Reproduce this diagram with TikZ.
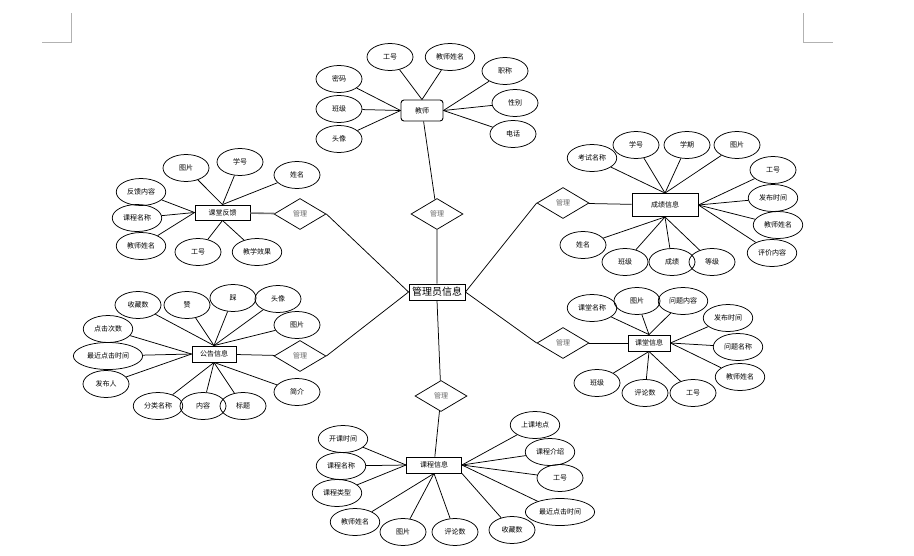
\documentclass[tikz,border=0pt]{standalone}
\usepackage{fontspec}
\setmainfont{Noto Sans CJK SC}
\usetikzlibrary{shapes.geometric}

\begin{document}
\begin{tikzpicture}[x=1pt,y=-1pt,line width=0.75pt,
  attr/.style={draw,ellipse,minimum width=46pt,minimum height=27pt,inner xsep=3.5pt,inner ysep=1pt,font=\fontsize{7}{8}\selectfont},
  ent/.style={draw,rectangle,line width=0.9pt,inner sep=1pt,minimum height=16pt,font=\fontsize{7}{8}\selectfont},
  rel/.style={draw,diamond,minimum width=52pt,minimum height=31pt,inner sep=0pt,text=black!60,font=\fontsize{7}{8}\selectfont}]
\useasboundingbox (0,0) rectangle (914,555);
% page corner marks
\draw[black!30,line width=0.6pt] (42,42) -- (71,42) -- (71,13);
\draw[black!30,line width=0.6pt] (803,13) -- (803,42) -- (833,42);

% entities
\node[ent,minimum width=56pt,font=\fontsize{10}{12}\selectfont] (admin) at (437,292) {管理员信息};
\node[ent,rounded corners=3pt,minimum width=42pt,minimum height=21pt] (teacher) at (422,110.5) {教师};
\node[ent,minimum width=66pt,minimum height=23pt] (score) at (665,205) {成绩信息};
\node[ent,minimum width=55pt,minimum height=15pt] (feedback) at (222.5,212.5) {课堂反馈};
\node[ent,minimum width=44pt] (notice) at (214,354) {公告信息};
\node[ent,minimum width=42pt] (lesson) at (649,343) {课堂信息};
\node[ent,minimum width=55pt] (course) at (434,465) {课程信息};

% relations
\node[rel] (mTch) at (437,214) {管理};
\node[rel] (mFb) at (300,214) {管理};
\node[rel] (mNt) at (300,356) {管理};
\node[rel] (mSc) at (563,203) {管理};
\node[rel] (mLs) at (563,343) {管理};
\node[rel] (mCs) at (441,396) {管理};

\draw (admin.north) -- (mTch) -- (teacher);
\draw (admin.south) -- (mCs) -- (course);
\draw (admin.west) -- (mFb.east);
\draw (admin.west) -- (mNt.east);
\draw (admin.east) -- (mSc.west);
\draw (admin.east) -- (mLs.west);
\draw[line width=1.6pt,black!55] (feedback) -- (mFb);
\draw (notice) -- (mNt);
\draw (mSc) -- (score);
\draw (mLs) -- (lesson);

% attributes of each entity
\foreach \x/\y/\a/\t [count=\i] in {390/57/north/工号,450/57/north/教师姓名,505/71/east/职称,
    515/103/east/性别,513/134/east/电话,339/79/west/密码,339/109/west/班级,339/139/west/头像} {
  \node[attr] (tch-\i) at (\x,\y) {\t};
  \draw (tch-\i) -- (teacher.\a);
}
\foreach \x/\y/\a/\t [count=\i] in {592/158/north/考试名称,636/145/north/学号,687/145/north/学期,
    737/145/north/图片,773/170/east/工号,773/198/east/发布时间,778/225/east/教师姓名,
    772/253/east/评价内容,583/245/south/姓名,625/262/south/班级,672/262/south/成绩,712/262/south/等级} {
  \node[attr] (sc-\i) at (\x,\y) {\t};
  \draw (sc-\i) -- (score.\a);
}
\foreach \x/\y/\a/\t [count=\i] in {186/168/north/图片,240/162/north/学号,297/175/north/姓名,
    141/192/west/反馈内容,137/218/west/课程名称,141/246/west/教师姓名,198/252/south/工号,257/252/south/教学效果} {
  \node[attr] (fb-\i) at (\x,\y) {\t};
  \draw (fb-\i) -- (feedback.\a);
}
\foreach \x/\y/\a/\t [count=\i] in {138/305/north/收藏数,187/305/north/赞,233/298/north/踩,
    278/299/north/头像,297/325/north/图片,108/329/west/点击次数,108/356/west/最近点击时间,
    106/384/west/发布人,158/406/south/分类名称,203/406/south/内容,243/406/south/标题,297/392/south/简介} {
  \node[attr] (nt-\i) at (\x,\y) {\t};
  \draw (nt-\i) -- (notice.\a);
}
\foreach \x/\y/\a/\t [count=\i] in {592/308/north/课堂名称,637/301/north/图片,683/301/north/问题内容,
    728/318/east/发布时间,738/347/east/问题名称,740/377/east/教师姓名,597/383/south/班级,
    645/393/south/评论数,693/393/south/工号} {
  \node[attr] (ls-\i) at (\x,\y) {\t};
  \draw (ls-\i) -- (lesson.\a);
}
\foreach \x/\y/\a/\t [count=\i] in {343/439/west/开课时间,341/466/west/课程名称,337/493/west/课程类型,
    355/522/south/教师姓名,403/532/south/图片,455/532/south/评论数,512/530/south east/收藏数,
    535/425/east/上课地点,550/452/east/课程介绍,560/478/east/工号,560/512/east/最近点击时间} {
  \node[attr] (cs-\i) at (\x,\y) {\t};
  \draw (cs-\i) -- (course.\a);
}
\end{tikzpicture}
\end{document}
